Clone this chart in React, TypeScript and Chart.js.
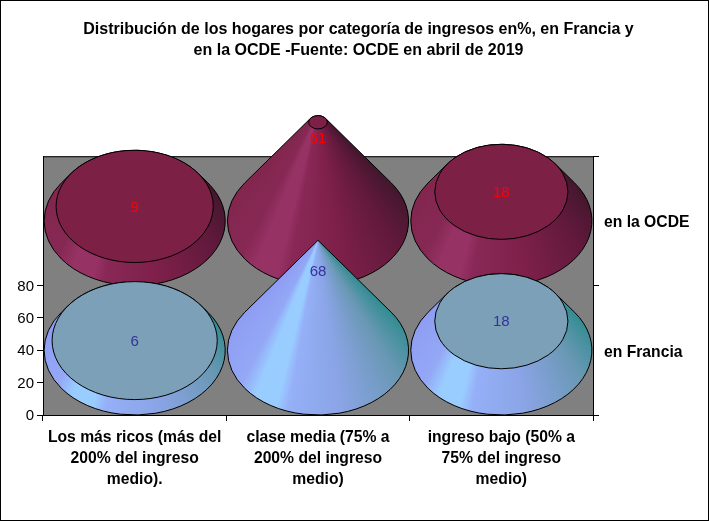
import { useEffect, useRef } from "react";
import { Chart, registerables } from "chart.js";

Chart.register(...registerables);

const titulo = [
  "Distribución de los hogares por categoría de ingresos en%, en Francia y",
  "en la OCDE -Fuente: OCDE en abril de 2019",
];
const categorias = [
  ["Los más ricos (más del", "200% del ingreso", "medio)."],
  ["clase media (75% a", "200% del ingreso", "medio)"],
  ["ingreso bajo (50% a", "75% del ingreso", "medio)"],
];
const series = ["en la OCDE", "en Francia"];
const ocde = [9, 61, 18];
const francia = [6, 68, 18];
const yTicks = [0, 20, 40, 60, 80];

// depth of each row of cones, in y axis units (the 3D chart stacks them back to front)
const baseOcde = 120;
const baseFrancia = 40;
const apexValue = 68;

const FONT = "'Liberation Sans', Arial, sans-serif";

// colours run round the cone, keyed on the angle seen from the apex (degrees)
const redStops: [number, string][] = [
  [44, "#41172c"],
  [60, "#61193c"],
  [82, "#7e204a"],
  [100, "#892856"],
  [104, "#963264"],
  [112, "#963264"],
  [118, "#862854"],
  [136, "#82264e"],
];
const blueStops: [number, string][] = [
  [44, "#2f8c90"],
  [60, "#6a98b4"],
  [82, "#8aa4e6"],
  [100, "#96b0f8"],
  [104, "#99ccff"],
  [112, "#99ccff"],
  [118, "#94a8f6"],
  [136, "#8e9cf2"],
];

function coneFill(ctx: CanvasRenderingContext2D, x: number, y: number, stops: [number, string][]) {
  const g = ctx.createConicGradient(0, x, y);
  stops.forEach(([deg, color]) => g.addColorStop(deg / 360, color));
  return g;
}

const conePlugin = {
  id: "cones",
  beforeDraw(chart: Chart) {
    const { ctx, width, height, chartArea: a } = chart;
    ctx.save();
    ctx.fillStyle = "#ffffff";
    ctx.fillRect(0, 0, width, height);
    ctx.strokeStyle = "#000000";
    ctx.lineWidth = 1;
    ctx.strokeRect(0.5, 0.5, width - 1, height - 1);
    ctx.fillStyle = "#808080";
    ctx.fillRect(a.left, a.top, a.right - a.left, a.bottom - a.top);
    ctx.strokeRect(a.left + 0.5, a.top + 0.5, a.right - a.left, a.bottom - a.top);
    ctx.restore();
  },
  afterDatasetsDraw(chart: Chart) {
    const { ctx } = chart;
    const xScale = chart.scales.x;
    const yScale = chart.scales.y;
    const catWidth = xScale.getPixelForValue(1) - xScale.getPixelForValue(0);
    const rx = catWidth * 0.494;
    const ry = yScale.getPixelForValue(0) - yScale.getPixelForValue(40);
    const pxPerUnit = ry / 40;
    const tangent = Math.asin(ry / (apexValue * pxPerUnit));

    chart.data.datasets.forEach((ds: any, di: number) => {
      const meta = chart.getDatasetMeta(di);
      meta.data.forEach((bar: any, i: number) => {
        const value = ds.values[i];
        const cx = bar.x;
        const baseY = bar.base;
        const topY = bar.y;
        const k = 1 - value / apexValue;
        const tRx = rx * k;
        const tRy = ry * k;
        const apexY = baseY - apexValue * pxPerUnit;

        ctx.save();
        ctx.lineWidth = 1;
        ctx.strokeStyle = "#000000";

        // side of the cone: base ellipse, tangents, then over the top one
        ctx.beginPath();
        ctx.ellipse(cx, baseY, rx, ry, 0, -tangent, Math.PI + tangent);
        if (k > 0) {
          ctx.ellipse(cx, topY, tRx, tRy, 0, Math.PI + tangent, -tangent);
        } else {
          ctx.lineTo(cx, apexY);
        }
        ctx.closePath();
        ctx.fillStyle = coneFill(ctx, cx, apexY, ds.stops);
        ctx.fill();
        ctx.stroke();

        if (k > 0) {
          ctx.beginPath();
          ctx.ellipse(cx, topY, tRx, tRy, 0, 0, Math.PI * 2);
          ctx.fillStyle = ds.topColor;
          ctx.fill();
          ctx.stroke();
        }

        // tall cones are too narrow at the tip, the label slides down the body
        const labelY = topY + 1 + Math.max(0, value - 54) * 2.2;
        ctx.fillStyle = ds.labelColor;
        ctx.font = `15px ${FONT}`;
        ctx.textAlign = "center";
        ctx.textBaseline = "middle";
        ctx.fillText(String(value), cx, labelY);
        ctx.restore();
      });
    });
  },
};

export default function App() {
  const chartRef = useRef<HTMLCanvasElement>(null);

  useEffect(() => {
    if (!chartRef.current) return;

    const chart = new Chart(chartRef.current, {
      type: "bar",
      plugins: [conePlugin],
      data: {
        labels: categorias as any,
        datasets: [
          {
            label: series[0],
            data: ocde.map((v) => [baseOcde, baseOcde + v]),
            values: ocde,
            stops: redStops,
            topColor: "#7d2046",
            labelColor: "#ff0000",
            backgroundColor: "transparent",
            grouped: false,
          },
          {
            label: series[1],
            data: francia.map((v) => [baseFrancia, baseFrancia + v]),
            values: francia,
            stops: blueStops,
            topColor: "#7ba0b8",
            labelColor: "#333399",
            backgroundColor: "transparent",
            grouped: false,
          },
        ] as any,
      },
      options: {
        responsive: false,
        animation: false,
        layout: { padding: { left: 8 } },
        plugins: {
          legend: { display: false },
          tooltip: { enabled: false },
          title: {
            display: true,
            text: titulo,
            color: "#000000",
            font: { family: FONT, size: 16, weight: "bold", lineHeight: 1.32 },
            padding: { top: 19, bottom: 95 },
          },
        },
        scales: {
          x: {
            offset: true,
            grid: { offset: true, drawOnChartArea: false, color: "#000000", tickLength: 6 },
            border: { color: "#000000" },
            ticks: {
              color: "#000000",
              maxRotation: 0,
              autoSkip: false,
              padding: 6,
              font: { family: FONT, size: 15.7, weight: "bold", lineHeight: 1.34 },
            },
            afterFit(scale: any) {
              scale.height = 106;
            },
          },
          y: {
            min: 0,
            max: 160,
            grid: { drawOnChartArea: false, color: "#000000", tickLength: 6 },
            border: { color: "#000000" },
            ticks: {
              color: "#000000",
              padding: 3,
              labelOffset: 1,
              font: { family: FONT, size: 15 },
            },
            afterBuildTicks(scale: any) {
              scale.ticks = yTicks.map((value) => ({ value }));
            },
            afterFit(scale: any) {
              scale.width = 35;
            },
          },
          y2: {
            type: "category",
            axis: "y",
            position: "right",
            labels: series,
            offset: true,
            grid: { offset: true, drawOnChartArea: false, color: "#000000", tickLength: 6 },
            border: { color: "#000000" },
            ticks: {
              color: "#000000",
              padding: 5,
              labelOffset: 2,
              font: { family: FONT, size: 15.7, weight: "bold" },
            },
            afterFit(scale: any) {
              scale.width = 116;
            },
          },
        } as any,
      },
    });

    return () => {
      chart.destroy();
    };
  }, []);

  return (
    <div style={{ position: "absolute", left: 0, top: 0, width: 709, height: 521 }}>
      <canvas ref={chartRef} width={709} height={521} style={{ display: "block" }} />
    </div>
  );
}
